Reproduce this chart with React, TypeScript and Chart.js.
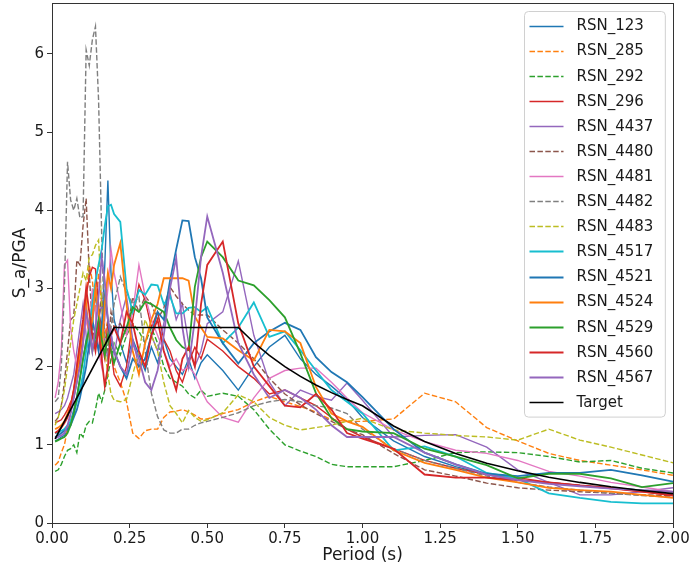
import React, { useEffect, useRef } from "react";
import { Chart, registerables } from "chart.js";
Chart.register(...registerables);

// Period grid (s) shared by all records
const periods = [
  0.01, 0.02, 0.03, 0.04, 0.05, 0.06, 0.07, 0.08, 0.09, 0.10,
  0.11, 0.12, 0.13, 0.14, 0.15, 0.16, 0.17, 0.18, 0.19, 0.20,
  0.22, 0.24, 0.26, 0.28, 0.30, 0.32, 0.34, 0.36, 0.38, 0.40,
  0.42, 0.44, 0.46, 0.48, 0.50, 0.55, 0.60, 0.65, 0.70, 0.75,
  0.80, 0.85, 0.90, 0.95, 1.00, 1.10, 1.20, 1.30, 1.40, 1.50,
  1.60, 1.70, 1.80, 1.90, 2.00,
];

const rsn123 = [
  1.05, 1.07, 1.10, 1.12, 1.18, 1.30, 1.45, 1.62, 1.85, 2.10,
  2.35, 2.20, 2.55, 2.90, 2.70, 2.50, 3.30, 4.38, 3.20, 2.60,
  2.30, 2.05, 2.35, 2.15, 1.95, 2.25, 2.05, 2.35, 2.10, 2.00,
  1.90, 2.10, 1.85, 2.05, 2.15, 1.95, 1.70, 2.00, 2.25, 2.40,
  2.10, 1.90, 1.75, 1.58, 1.35, 1.05, 0.85, 0.72, 0.62, 0.55,
  0.52, 0.48, 0.45, 0.42, 0.40,
];
const rsn285 = [
  0.74, 0.78, 0.90, 1.00, 1.20, 1.40, 1.70, 2.00, 2.30, 2.60,
  2.90, 3.30, 3.10, 2.70, 3.20, 2.80, 2.40, 2.60, 2.20, 2.00,
  1.80, 1.55, 1.15, 1.08, 1.18, 1.20, 1.20, 1.35, 1.42, 1.43,
  1.45, 1.42, 1.38, 1.33, 1.33, 1.40, 1.45, 1.55, 1.62, 1.55,
  1.49, 1.42, 1.32, 1.30, 1.30, 1.33, 1.66, 1.55, 1.22, 1.05,
  0.89, 0.80, 0.74, 0.68, 0.61,
];
const rsn292 = [
  0.66, 0.68, 0.75, 0.85, 0.93, 0.95, 1.00, 0.90, 1.15, 1.10,
  1.25, 1.30, 1.28, 1.45, 1.66, 1.55, 1.70, 1.90, 2.10, 2.30,
  2.15, 2.40, 2.55, 2.45, 2.30, 2.50, 2.30, 2.00, 1.85, 1.80,
  1.75, 1.65, 1.60, 1.70, 1.62, 1.66, 1.62, 1.45, 1.20, 1.00,
  0.92, 0.85, 0.75, 0.72, 0.72, 0.72, 0.80, 0.90, 0.91, 0.90,
  0.85, 0.78, 0.80, 0.70, 0.64,
];
const rsn296 = [
  1.28, 1.30, 1.32, 1.38, 1.45, 1.55, 1.60, 1.80, 2.10, 2.40,
  2.90, 3.15, 3.27, 3.25, 2.80, 2.30, 2.10, 2.60, 2.20, 1.90,
  1.75, 2.00, 2.60, 3.05, 2.85, 2.50, 2.70, 2.35, 2.20, 1.95,
  1.80, 2.05, 2.25, 2.10, 2.35, 2.20, 2.00, 1.85, 1.65, 1.70,
  1.60, 1.50, 1.35, 1.20, 1.10, 0.95, 0.80, 0.70, 0.62, 0.58,
  0.52, 0.48, 0.44, 0.40, 0.36,
];
const rsn4437 = [
  1.40, 1.42, 1.45, 1.50, 1.60, 1.75, 1.90, 2.20, 2.50, 2.80,
  2.40, 2.20, 2.70, 3.00, 2.60, 2.80, 2.30, 2.10, 2.45, 2.15,
  2.60, 2.90, 2.35, 2.00, 2.10, 2.40, 2.20, 2.55, 2.95, 2.60,
  2.80, 2.30, 2.00, 2.20, 2.55, 2.70, 3.35, 2.40, 1.80, 1.50,
  1.70, 1.62, 1.57, 1.79, 1.57, 1.10, 1.12, 1.13, 0.97, 0.68,
  0.52, 0.36, 0.36, 0.40, 0.45,
];
const rsn4480 = [
  1.30, 1.35, 1.50, 1.80, 2.20, 2.60, 2.64, 3.36, 3.30, 3.80,
  4.15, 3.20, 2.50, 2.30, 2.60, 2.90, 2.40, 2.20, 2.70, 2.50,
  2.55, 2.40, 2.89, 2.70, 2.90, 2.80, 2.60, 2.75, 3.02, 2.90,
  2.80, 2.72, 2.66, 2.66, 2.66, 2.47, 2.30, 2.10, 1.85, 1.65,
  1.51, 1.40, 1.30, 1.20, 1.13, 0.89, 0.68, 0.60, 0.51, 0.45,
  0.42, 0.40, 0.38, 0.36, 0.35,
];
const rsn4481 = [
  1.60, 1.80, 2.20, 3.30, 3.36, 2.50, 2.20, 2.00, 1.95, 2.30,
  2.60, 2.40, 3.00, 2.70, 2.20, 2.00, 2.60, 3.00, 3.50, 3.20,
  2.80, 2.40, 2.70, 3.30, 2.90, 2.60, 2.40, 2.20, 2.00, 2.10,
  1.95, 2.00, 1.90, 1.70, 1.55, 1.35, 1.29, 1.60, 1.85, 1.95,
  1.98, 1.98, 1.80, 1.60, 1.41, 1.19, 1.04, 0.93, 0.89, 0.80,
  0.66, 0.60, 0.52, 0.46, 0.40,
];
const rsn4482 = [
  1.55, 1.60, 2.00, 3.00, 4.62, 4.13, 4.00, 4.15, 3.90, 3.92,
  6.05, 5.85, 6.18, 6.35, 5.41, 3.70, 2.30, 2.10, 2.50, 2.80,
  3.15, 2.95, 2.80, 2.89, 2.20, 1.66, 1.36, 1.19, 1.15, 1.15,
  1.20, 1.20, 1.25, 1.28, 1.30, 1.35, 1.41, 1.50, 1.55, 1.58,
  1.55, 1.50, 1.47, 1.40, 1.20, 0.95, 0.80, 0.70, 0.60, 0.52,
  0.46, 0.42, 0.38, 0.35, 0.33,
];
const rsn4483 = [
  1.25, 1.35, 1.50, 1.70, 2.00, 2.30, 2.60, 2.80, 3.00, 3.20,
  3.10, 3.40, 3.43, 3.55, 3.62, 2.80, 2.20, 1.90, 1.65, 1.57,
  1.55, 1.58, 1.90, 2.20, 2.60, 2.40, 2.20, 1.80, 1.50, 1.40,
  1.28, 1.44, 1.35, 1.30, 1.32, 1.41, 1.64, 1.55, 1.35, 1.25,
  1.19, 1.22, 1.25, 1.30, 1.34, 1.19, 1.15, 1.12, 1.10, 1.06,
  1.20, 1.06, 0.97, 0.87, 0.77,
];
const rsn4517 = [
  1.15, 1.16, 1.18, 1.20, 1.25, 1.30, 1.40, 1.55, 1.70, 1.90,
  2.20, 2.50, 2.80, 3.10, 3.30, 3.50, 3.80, 4.05, 4.07, 3.95,
  3.85, 3.00, 2.70, 2.98, 2.92, 3.05, 3.04, 2.80, 2.90, 2.68,
  2.68, 2.75, 2.76, 2.70, 2.76, 2.30, 2.50, 2.82, 2.38, 2.45,
  2.21, 1.95, 1.70, 1.55, 1.40, 0.93, 0.98, 0.85, 0.64, 0.57,
  0.38, 0.32, 0.27, 0.25, 0.25,
];
const rsn4521 = [
  1.10, 1.12, 1.15, 1.18, 1.20, 1.25, 1.35, 1.45, 1.60, 1.80,
  2.00, 2.30, 2.60, 2.40, 2.20, 2.50, 2.90, 2.60, 2.30, 2.20,
  2.00, 1.85, 2.10, 2.00, 2.10, 2.40, 2.70, 2.60, 3.10, 3.50,
  3.87, 3.86, 3.40, 3.13, 2.63, 2.30, 2.04, 2.30, 2.45, 2.56,
  2.47, 2.12, 1.93, 1.80, 1.61, 1.20, 0.90, 0.75, 0.63, 0.60,
  0.64, 0.64, 0.68, 0.61, 0.53,
];
const rsn4524 = [
  1.20, 1.22, 1.25, 1.30, 1.40, 1.50, 1.70, 1.90, 2.20, 2.50,
  2.80, 2.40, 2.60, 3.00, 2.70, 2.20, 2.80, 3.20, 3.00, 3.30,
  3.58, 2.80, 2.20, 1.90, 2.30, 2.60, 2.80, 3.13, 3.13, 3.13,
  3.13, 3.10, 2.64, 2.50, 2.38, 2.36, 2.21, 2.08, 2.47, 2.45,
  2.30, 1.74, 1.40, 1.30, 1.23, 0.93, 0.77, 0.68, 0.58, 0.52,
  0.45, 0.42, 0.40, 0.36, 0.32,
];
const rsn4529 = [
  1.04, 1.06, 1.08, 1.10, 1.15, 1.25, 1.40, 1.60, 1.85, 2.10,
  2.30, 2.50, 2.20, 2.40, 2.60, 2.35, 2.15, 2.40, 2.20, 2.05,
  2.30, 2.50, 2.76, 2.70, 2.83, 2.80, 2.75, 2.70, 2.50, 2.34,
  2.25, 2.21, 3.02, 3.40, 3.60, 3.40, 3.10, 3.04, 2.85, 2.63,
  2.17, 1.66, 1.34, 1.20, 1.17, 1.15, 0.95, 0.85, 0.74, 0.57,
  0.63, 0.63, 0.57, 0.46, 0.51,
];
const rsn4560 = [
  1.15, 1.18, 1.22, 1.28, 1.35, 1.50, 1.70, 2.00, 2.30, 2.60,
  3.00, 2.70, 2.40, 2.20, 2.50, 2.10, 1.75, 2.00, 2.40, 2.50,
  2.30, 2.70, 2.55, 2.20, 2.00, 2.40, 2.60, 2.20, 1.95, 1.70,
  2.10, 2.25, 2.00, 2.80, 3.30, 3.60, 2.55, 2.00, 1.75, 1.50,
  1.48, 1.65, 1.45, 1.15, 1.08, 0.95, 0.62, 0.58, 0.58, 0.55,
  0.52, 0.48, 0.45, 0.40, 0.35,
];
const rsn4567 = [
  1.08, 1.10, 1.12, 1.15, 1.25, 1.40, 1.60, 1.80, 2.00, 2.30,
  2.70, 2.50, 2.20, 2.50, 2.90, 3.40, 3.10, 2.60, 2.40, 2.20,
  2.00, 1.90, 2.30, 2.10, 1.80, 1.70, 1.95, 2.40, 3.00, 3.39,
  2.50, 2.00, 2.60, 3.40, 3.92, 3.20, 2.30, 1.90, 1.60, 1.70,
  1.60, 1.45, 1.25, 1.10, 1.10, 1.10, 0.90, 0.75, 0.62, 0.55,
  0.50, 0.47, 0.44, 0.42, 0.40,
];

const targetPeriods = [
  0.01, 0.20, 0.60, 0.65, 0.70, 0.75, 0.80, 0.85, 0.90, 0.95, 1.00,
  1.10, 1.20, 1.30, 1.40, 1.50, 1.60, 1.70, 1.80, 1.90, 2.00,
];
const targetValues = [
  1.075, 2.5, 2.5, 2.308, 2.143, 2.0, 1.875, 1.765, 1.667, 1.579, 1.5,
  1.240, 1.042, 0.888, 0.765, 0.667, 0.586, 0.519, 0.463, 0.416, 0.375,
];

const seriesNames = [
  "RSN_123", "RSN_285", "RSN_292", "RSN_296", "RSN_4437", "RSN_4480",
  "RSN_4481", "RSN_4482", "RSN_4483", "RSN_4517", "RSN_4521", "RSN_4524",
  "RSN_4529", "RSN_4560", "RSN_4567",
];
const seriesValues = [
  rsn123, rsn285, rsn292, rsn296, rsn4437, rsn4480, rsn4481, rsn4482,
  rsn4483, rsn4517, rsn4521, rsn4524, rsn4529, rsn4560, rsn4567,
];
const seriesColors = [
  "#1f77b4", "#ff7f0e", "#2ca02c", "#d62728", "#9467bd", "#8c564b",
  "#e377c2", "#7f7f7f", "#bcbd22", "#17becf", "#1f77b4", "#ff7f0e",
  "#2ca02c", "#d62728", "#9467bd",
];
const dashedNames = ["RSN_285", "RSN_292", "RSN_4480", "RSN_4482", "RSN_4483"];
const xTicks = [0, 0.25, 0.5, 0.75, 1.0, 1.25, 1.5, 1.75, 2.0];
const yTicks = [0, 1, 2, 3, 4, 5, 6];

const FONT = "'DejaVu Sans', sans-serif";

const frameAndLegend = {
  id: "frameAndLegend",
  afterDraw(chart: any) {
    const { ctx, chartArea } = chart;
    ctx.save();
    // frame (spines)
    ctx.strokeStyle = "#333";
    ctx.lineWidth = 1;
    ctx.strokeRect(
      Math.round(chartArea.left) + 0.5,
      Math.round(chartArea.top) + 0.5,
      Math.round(chartArea.right - chartArea.left),
      Math.round(chartArea.bottom - chartArea.top)
    );
    // legend box
    const sets = chart.data.datasets;
    ctx.font = "15px " + FONT;
    let maxW = 0;
    sets.forEach((d: any) => {
      maxW = Math.max(maxW, ctx.measureText(d.label).width);
    });
    const pad = 5, handle = 34, gap = 13, rowH = 25.1;
    const w = pad + handle + gap + maxW + 12;
    const h = rowH * sets.length + 4;
    const x0 = Math.round(chartArea.right - 8 - w) + 0.5;
    const y0 = Math.round(chartArea.top + 8) + 0.5;
    const r = 4;
    ctx.beginPath();
    ctx.moveTo(x0 + r, y0);
    ctx.lineTo(x0 + w - r, y0);
    ctx.quadraticCurveTo(x0 + w, y0, x0 + w, y0 + r);
    ctx.lineTo(x0 + w, y0 + h - r);
    ctx.quadraticCurveTo(x0 + w, y0 + h, x0 + w - r, y0 + h);
    ctx.lineTo(x0 + r, y0 + h);
    ctx.quadraticCurveTo(x0, y0 + h, x0, y0 + h - r);
    ctx.lineTo(x0, y0 + r);
    ctx.quadraticCurveTo(x0, y0, x0 + r, y0);
    ctx.closePath();
    ctx.fillStyle = "rgba(255,255,255,0.8)";
    ctx.fill();
    ctx.strokeStyle = "#d0d0d0";
    ctx.stroke();
    ctx.textBaseline = "middle";
    ctx.textAlign = "left";
    sets.forEach((d: any, i: number) => {
      const cy = y0 + 14 + i * rowH;
      ctx.beginPath();
      ctx.setLineDash(d.borderDash || []);
      ctx.strokeStyle = d.borderColor;
      ctx.lineWidth = d.borderWidth;
      ctx.moveTo(x0 + pad, Math.round(cy) + 0.5);
      ctx.lineTo(x0 + pad + handle, Math.round(cy) + 0.5);
      ctx.stroke();
      ctx.setLineDash([]);
      ctx.fillStyle = "#1a1a1a";
      ctx.fillText(d.label, x0 + pad + handle + gap, cy + 1);
    });
    ctx.restore();
  },
};

export default function App() {
  const ref = useRef<HTMLCanvasElement | null>(null);
  useEffect(() => {
    if (!ref.current) return;
    const n = seriesNames.length;
    const datasets: any[] = seriesNames.map((name, i) => {
      const dashed = dashedNames.includes(name);
      const thick = i >= 9;
      return {
        label: name,
        data: periods.map((p, k) => ({ x: p, y: seriesValues[i][k] })),
        borderColor: seriesColors[i],
        borderWidth: thick ? 1.8 : 1.4,
        borderDash: dashed ? [5.5, 2.4] : [],
        pointRadius: 0,
        tension: 0,
        fill: false,
        order: n - i + 1,
      };
    });
    datasets.push({
      label: "Target",
      data: targetPeriods.map((p, k) => ({ x: p, y: targetValues[k] })),
      borderColor: "#000000",
      borderWidth: 1.6,
      borderDash: [],
      pointRadius: 0,
      tension: 0,
      fill: false,
      order: 0,
    });
    const chart = new Chart(ref.current, {
      type: "line",
      data: { datasets },
      plugins: [frameAndLegend],
      options: {
        animation: false,
        responsive: false,
        devicePixelRatio: 1,
        layout: { padding: { top: 3, right: 19, left: 0, bottom: 0 } },
        plugins: { legend: { display: false }, tooltip: { enabled: false } },
        scales: {
          x: {
            type: "linear",
            min: 0,
            max: 2,
            afterFit: (s: any) => {
              s.height = 48;
              s.paddingLeft = 0;
              s.paddingRight = 0;
            },
            afterBuildTicks: (s: any) => { s.ticks = xTicks.map((v) => ({ value: v })); },
            ticks: {
              font: { family: FONT, size: 15 },
              color: "#1a1a1a",
              padding: 2,
              maxRotation: 0,
              autoSkip: false,
              callback: (v: any) => Number(v).toFixed(2),
            },
            grid: { drawOnChartArea: false, tickLength: 5, color: "#333" },
            border: { display: true, color: "#333" },
            title: {
              display: true,
              text: "Period (s)",
              font: { family: FONT, size: 17 },
              color: "#1a1a1a",
              padding: { top: 0, bottom: 5 },
            },
          },
          y: {
            type: "linear",
            min: 0,
            max: 6.65,
            afterFit: (s: any) => {
              s.width = 52;
              s.paddingTop = 0;
              s.paddingBottom = 0;
            },
            afterBuildTicks: (s: any) => {
              s.ticks = yTicks.map((v) => ({ value: v }));
            },
            ticks: {
              font: { family: FONT, size: 15 },
              color: "#1a1a1a",
              padding: 3,
              autoSkip: false,
              callback: (v: any) => String(v),
            },
            grid: { drawOnChartArea: false, tickLength: 5, color: "#333" },
            border: { display: true, color: "#333" },
            title: {
              display: true,
              text: "S_a/PGA",
              font: { family: FONT, size: 17 },
              color: "#1a1a1a",
              padding: { top: 10, bottom: 0 },
            },
          },
        },
      },
    } as any);
    return () => chart.destroy();
  }, []);
  return (
    <div style={{ position: "fixed", left: 0, top: 0, width: 692, height: 571, background: "#fff" }}>
      <canvas ref={ref} width={692} height={571} style={{ display: "block", width: 692, height: 571 }} />
    </div>
  );
}
